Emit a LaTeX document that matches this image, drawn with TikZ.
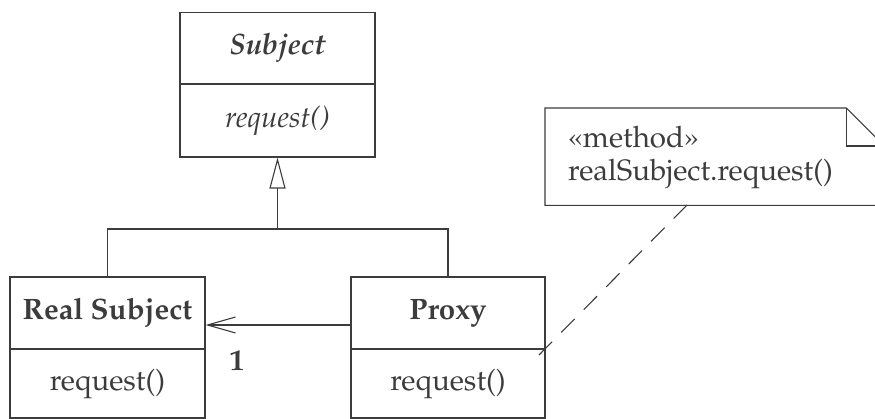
\documentclass[tikz,border=0pt]{standalone}
\usepackage[T1]{fontenc}
\usepackage{mathpazo}
\usetikzlibrary{arrows.meta}
\definecolor{ink}{RGB}{60,60,60}
\newcommand{\clsfont}{\fontsize{29.5}{34}\selectfont}
\tikzset{
  cls/.style={draw=ink, text=ink, line width=1.1pt, minimum width=195pt, inner sep=0pt, font=\clsfont},
  conn/.style={draw=ink, line width=1.1pt},
  notetxt/.style={text=ink, font=\clsfont, anchor=base west, inner sep=0pt},
}
\begin{document}
\begin{tikzpicture}[x=1pt, y=-1pt]
\useasboundingbox (0,0) rectangle (875,419);
% Subject
\node[cls, minimum height=71.3pt] (subjname) at (277.5,48.35) {\bfseries\itshape Subject};
\node[cls, minimum height=73pt] (subjop) at (277.5,120.5) {\itshape request()};
% Real Subject
\node[cls, minimum height=72pt] (rsname) at (107.5,313) {\bfseries Real Subject};
\node[cls, minimum height=69pt] (rsop) at (107.5,383.5) {request()};
% Proxy
\node[cls, minimum width=194pt, minimum height=72pt] (pxname) at (448,313) {\bfseries Proxy};
\node[cls, minimum width=194pt, minimum height=69pt] (pxop) at (448,383.5) {request()};
% generalisation
\coordinate (j) at (277.5,229);
\draw[conn] (rsname.north) |- (j) -| (pxname.north);
\draw[conn, -{Triangle[open, length=31pt, width=16pt]}] (j) -- (subjop.south);
% association
\draw[conn, -{Straight Barb[length=28pt, width=16pt]}] ([yshift=-12pt]pxname.west) -- ([yshift=-12pt]rsname.east);
\node[text=ink, font=\clsfont\bfseries, inner sep=0pt] (mult) at (237,361) {1};
% note
\node[minimum width=339pt, minimum height=97pt, inner sep=0pt, anchor=north west] (note) at (545,108) {};
\draw[conn] (note.north west) -- ([xshift=-38pt]note.north east) -- ([yshift=-38pt]note.north east) -- (note.south east) -- (note.south west) -- cycle;
\draw[conn] ([xshift=-38pt]note.north east) -- ([xshift=-38pt,yshift=-38pt]note.north east) -- ([yshift=-38pt]note.north east);
\node[notetxt] (stereo) at (568,148) {\guillemotleft method\guillemotright};
\node[notetxt] (notebody) at (568,181) {realSubject.request()};
\coordinate (notefoot) at (687,205);
\coordinate (dashend) at (539,355);
\draw[conn, dash pattern=on 19pt off 13pt] (notefoot) -- (dashend);
\end{tikzpicture}
\end{document}
